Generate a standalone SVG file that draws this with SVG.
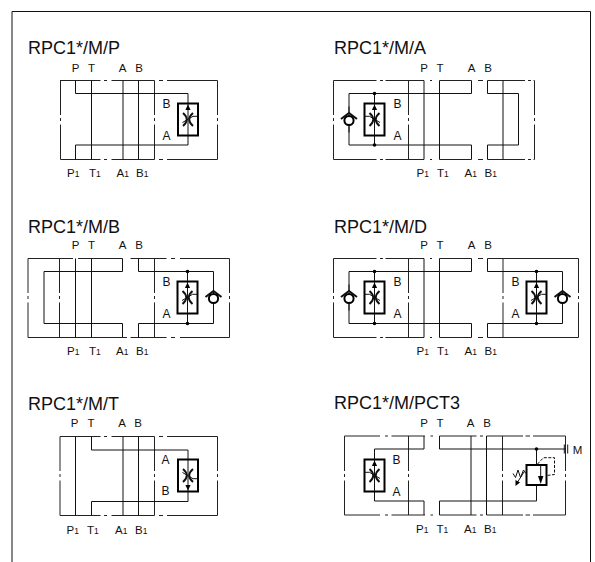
<svg xmlns="http://www.w3.org/2000/svg" width="595" height="562" viewBox="0 0 595 562">
<style>
text{font-family:"Liberation Sans",Arial,sans-serif;fill:#111;font-size:11.5px}
.t{font-size:18px}
.m{text-anchor:middle}
.i{font-size:12px}
.s{font-size:8.5px}
path,line{fill:none;stroke:#111;stroke-width:1}
.o{stroke:#222}
.th{stroke-width:1.900}
.b{stroke-width:2}
</style>
<defs>
<g id="valve">
<rect x="-10" y="-16" width="20" height="32" fill="#fff" stroke="#000" stroke-width="2"/>
<path d="M0-16V16"/>
<polygon points="0,-15 2.600,-9.500 -2.600,-9.500" fill="#000"/>
<path class="th" d="M-5-6.500Q2.500 0-5 6.500M5-6.500Q-2.500 0 5 6.500"/>
<path stroke-width="1.400" d="M-5.500 3L5-3.200H9.500"/>
</g>
<g id="check">
<path d="M0-13V-6M0 6V13" stroke-width="1"/>
<path class="b" d="M-8-.5L0-6.500L8-.5"/>
<circle cx="0" cy="1" r="4.600" fill="#fff" stroke="#000" stroke-width="2"/>
</g>
<circle id="dot" r="1.800" fill="#000"/>
</defs>
<path id="frame" d="M12 562V11.500H590.500V562" stroke="#444" stroke-width="1.600"/>

<g id="rpc-p">
<text class="t" x="28" y="53.500">RPC1*/M/P</text>
<text class="m" x="75.500" y="71.500">P</text><text class="m" x="91.500" y="71.500">T</text><text class="m" x="122.500" y="71.500">A</text><text class="m" x="139" y="71.500">B</text>
<text x="67" y="177">P<tspan class="s">1</tspan></text><text x="89" y="177">T<tspan class="s">1</tspan></text><text x="116.500" y="177">A<tspan class="s">1</tspan></text><text x="136" y="177">B<tspan class="s">1</tspan></text>
<text class="i m" x="166.500" y="107.500">B</text><text class="i m" x="166.500" y="139.500">A</text>
<path class="o" d="M60 80.500H100.500M104 80.500H107M111.500 80.500H154.500M159 80.500H163M167 80.500H217.500V115M217.500 118V121M217.500 124.500V159.500H167M163 159.500H159M154.500 159.500H111.500M107 159.500H104M100.500 159.500H60.500V124.500M60.500 121V118M60.500 115V80.500M154.500 80.500V115M154.500 118V121M154.500 124.500V159.500"/>
<g id="conn-p"><path d="M75.500 80.500V93.500H188V145H75.500V159.500M91.500 80.500V159.500M123 80.500V159.500M138.500 80.500V159.500"/></g>
<use href="#valve" x="188" y="119.500"/>
</g>

<g id="rpc-a">
<text class="t" x="334" y="53.500">RPC1*/M/A</text>
<text class="m" x="424" y="71.500">P</text><text class="m" x="440" y="71.500">T</text><text class="m" x="471.500" y="71.500">A</text><text class="m" x="488" y="71.500">B</text>
<text x="416.500" y="177">P<tspan class="s">1</tspan></text><text x="437" y="177">T<tspan class="s">1</tspan></text><text x="464.500" y="177">A<tspan class="s">1</tspan></text><text x="484.500" y="177">B<tspan class="s">1</tspan></text>
<text class="i m" x="397.500" y="107.500">B</text><text class="i m" x="397.500" y="139.500">A</text>
<path class="o" d="M333.500 80.500H376.500M380 80.500H383M385.500 80.500H424M430 80.500H432M439.500 80.500H471.500M478 80.500H483M487.500 80.500H525M528 80.500H531M533.500 80.500H534.500V115M534.500 118V121M534.500 124.500V159.500H533.500M531 159.500H528M525 159.500H487.500M483 159.500H478M471.500 159.500H439.500M432 159.500H430M424 159.500H385.500M383 159.500H380M376.500 159.500H333.500V124.500M333.500 121V118M333.500 115V80.500M408.500 80.500V115M408.500 118V121M408.500 124.500V159.500"/>
<g id="conn-a"><path d="M471.500 80.500V93.500H349V145H471.500V159.500M487.500 80.500V93.500H518.500V145H487.500V159.500M424 80.500V159.500M439.500 80.500V159.500M503 80.500V159.500"/></g>
<use href="#valve" transform="translate(374.500 119.500) scale(-1 1)"/>
<path d="M374.500 93.500V103M374.500 136V145"/>
<use href="#dot" x="374.500" y="93.500"/><use href="#dot" x="374.500" y="145"/>
<use href="#check" x="349" y="119.500"/>
</g>

<g id="rpc-b">
<text class="t" x="28" y="232.500">RPC1*/M/B</text>
<text class="m" x="75.500" y="248.500">P</text><text class="m" x="91.500" y="248.500">T</text><text class="m" x="122.500" y="248.500">A</text><text class="m" x="139" y="248.500">B</text>
<text x="67" y="354.500">P<tspan class="s">1</tspan></text><text x="89" y="354.500">T<tspan class="s">1</tspan></text><text x="116" y="354.500">A<tspan class="s">1</tspan></text><text x="136" y="354.500">B<tspan class="s">1</tspan></text>
<text class="i m" x="166.500" y="285.500">B</text><text class="i m" x="166.500" y="317.500">A</text>
<path class="o" d="M28 258.500H73M78 258.500H122.500M130.500 258.500H166.500M171 258.500H175M180 258.500H229.500V293M229.500 296V299M229.500 302.500V337.500H180M175 337.500H171M166.500 337.500H130.500M127 337.500H122.500M122.500 337.500H28V302.500M28 299V296M28 293V258.500M154.500 258.500V293M154.500 296V299M154.500 302.500V337.500M59.500 258.500V293M59.500 296V299M59.500 302.500V337.500"/>
<g id="conn-b"><path d="M122.500 258.500V271.500H44V323.500H122.500V337.500M138.500 258.500V271.500H213.500V323.500H138.500V337.500M75.500 258.500V337.500M91.500 258.500V337.500"/></g>
<use href="#valve" x="187.500" y="297.500"/>
<path d="M187.500 271.500V281M187.500 314V323.500"/>
<use href="#dot" x="187.500" y="271.500"/><use href="#dot" x="187.500" y="323.500"/>
<use href="#check" x="213.500" y="297.500"/>
</g>

<g id="rpc-d">
<text class="t" x="334" y="232.500">RPC1*/M/D</text>
<text class="m" x="424" y="248.500">P</text><text class="m" x="440" y="248.500">T</text><text class="m" x="471.500" y="248.500">A</text><text class="m" x="488" y="248.500">B</text>
<text x="416.500" y="354.500">P<tspan class="s">1</tspan></text><text x="437" y="354.500">T<tspan class="s">1</tspan></text><text x="464.500" y="354.500">A<tspan class="s">1</tspan></text><text x="484.500" y="354.500">B<tspan class="s">1</tspan></text>
<text class="i m" x="397.500" y="285.500">B</text><text class="i m" x="397.500" y="317.500">A</text>
<text class="i m" x="515.500" y="285.500">B</text><text class="i m" x="515.500" y="317.500">A</text>
<path class="o" d="M333.500 258.500H376.500M380 258.500H383M385.500 258.500H424M430 258.500H432M439.500 258.500H471.500M478 258.500H483M487.500 258.500H578.500V293M578.500 296V299M578.500 302.500V337.500H487.500M483 337.500H478M471.500 337.500H439.500M432 337.500H430M424 337.500H385.500M383 337.500H380M376.500 337.500H333.500V302.500M333.500 299V296M333.500 293V258.500M408.500 258.500V293M408.500 296V299M408.500 302.500V337.500M503 258.500V293M503 296V299M503 302.500V337.500"/>
<g id="conn-d"><path d="M471.500 258.500V271.500H349V323.500H471.500V337.500M487.500 258.500V271.500H562.500V323.500H487.500V337.500M424 258.500V337.500M439.500 258.500V337.500"/></g>
<use href="#valve" transform="translate(374.500 297.500) scale(-1 1)"/>
<use href="#valve" x="536.500" y="297.500"/>
<path d="M374.500 271.500V281M374.500 314V323.500M536.500 271.500V281M536.500 314V323.500"/>
<use href="#dot" x="374.500" y="271.500"/><use href="#dot" x="374.500" y="323.500"/><use href="#dot" x="536.500" y="271.500"/><use href="#dot" x="536.500" y="323.500"/>
<use href="#check" x="349" y="297.500"/>
<use href="#check" x="562.500" y="297.500"/>
</g>

<g id="rpc-t">
<text class="t" x="28" y="409.500">RPC1*/M/T</text>
<text class="m" x="74.500" y="426.500">P</text><text class="m" x="91" y="426.500">T</text><text class="m" x="122" y="426.500">A</text><text class="m" x="138" y="426.500">B</text>
<text x="66.500" y="533.500">P<tspan class="s">1</tspan></text><text x="87" y="533.500">T<tspan class="s">1</tspan></text><text x="115" y="533.500">A<tspan class="s">1</tspan></text><text x="135" y="533.500">B<tspan class="s">1</tspan></text>
<text class="i m" x="165.500" y="463.500">A</text><text class="i m" x="165.500" y="495">B</text>
<path class="o" d="M60 436.500H100.500M104 436.500H107M111.500 436.500H154.500M159 436.500H163M167 436.500H217.500V471M217.500 474V477M217.500 480.500V515.500H167M163 515.500H159M154.500 515.500H111.500M107 515.500H104M100.500 515.500H60V480.500M60 477V474M60 471V436.500M154.500 436.500V471M154.500 474V477M154.500 480.500V515.500"/>
<g id="conn-t"><path d="M91.500 436.500V450H188V501.500H91.500V515.500M75.500 436.500V515.500M123 436.500V515.500M138.500 436.500V515.500"/></g>
<use href="#valve" transform="translate(188 475.500) scale(1 -1)"/>
</g>

<g id="rpc-pct3">
<text class="t" x="334" y="409">RPC1*/M/PCT3</text>
<text class="m" x="424" y="426.500">P</text><text class="m" x="440" y="426.500">T</text><text class="m" x="470.500" y="426.500">A</text><text class="m" x="487" y="426.500">B</text>
<text x="416" y="532.500">P<tspan class="s">1</tspan></text><text x="436.500" y="532.500">T<tspan class="s">1</tspan></text><text x="464" y="532.500">A<tspan class="s">1</tspan></text><text x="484" y="532.500">B<tspan class="s">1</tspan></text>
<text class="i m" x="396.500" y="463.500">B</text><text class="i m" x="396.500" y="495.500">A</text>
<text x="572.700" y="453.500">M</text>
<path class="o" d="M344.500 436H380M385 436H388M391.500 436H425M430.500 436H433M439.500 436H476.500M480 436H483M486.500 436H523M525.500 436H530M533 436H565.500V471M565.500 474V477M565.500 480.500V515H533M530 515H525.500M523 515H486.500M483 515H480M476.500 515H439.500M433 515H430.500M425 515H391.500M388 515H385M380 515H344.500V480.500M344.500 477V474M344.500 471V436M408.500 436V471M408.500 474V477M408.500 480.500V515M502.500 436V471M502.500 474V477M502.500 480.500V515"/>
<g id="conn-pct3"><path d="M424 436V449H374.500V501H424V515M439.500 436V449H566M439.500 515V501H536.500V485M536.500 449V465M471 436V515M486.500 436V515M564.300 444.500V453.500M567.700 444.500V453.500"/></g>
<use href="#valve" transform="translate(374.500 475.500) scale(-1 1)"/>
<use href="#dot" x="536.500" y="449"/>
<rect x="526.500" y="465" width="20" height="20" fill="#fff" stroke="#000" stroke-width="2"/>
<path d="M540.700 465V477"/>
<polygon points="540.700,484 538,476 543.400,476" fill="#000"/>
<path stroke-dasharray="3 1.500" d="M537.500 464L543.500 457.700H554.500V474.500L546.700 475.500"/>
<path d="M526 473.500L523.500 470L520.500 477.500L518 470L515.500 477.500L513 473.500M524 472L517 483"/>
<polygon points="515.500,486 515.500,480 520,482.500" fill="#000"/>
</g>
</svg>
